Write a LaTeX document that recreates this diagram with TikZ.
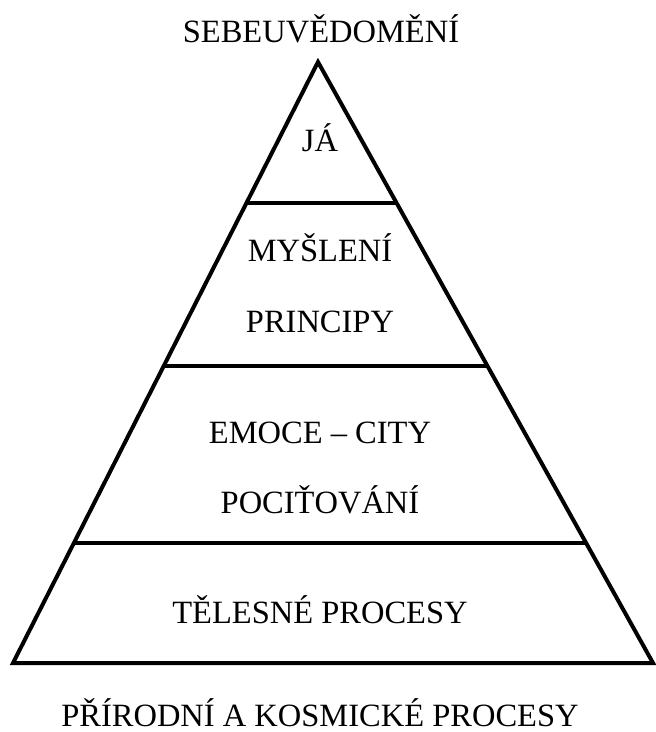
\documentclass[tikz,border=0pt]{standalone}
\usepackage{fontspec}
\setmainfont{Liberation Serif}
\usepackage{tikz}
\usetikzlibrary{calc}
\tikzstyle{caption}=[anchor=base, inner sep=0pt,
font=\fontsize{32.5}{39}\selectfont]
\tikzstyle{edge} = [line width=4pt, line join=miter]

\begin{document}
\begin{tikzpicture}
	[x=1pt, y=-1pt]
	\useasboundingbox (0,0) rectangle (656,732);
	\coordinate (top) at (318,62);
	\coordinate (left) at (13,663);
	\coordinate (right) at (653,663);

	\draw[edge] (top) -- (right) -- (left) -- cycle;
	\draw[edge] ($(top)!0.2346!(left)$) -- ($(top)!0.2346!(right)$);
	\draw[edge] ($(top)!0.5058!(left)$) -- ($(top)!0.5058!(right)$);
	\draw[edge] ($(top)!0.8003!(left)$) -- ($(top)!0.8003!(right)$);

	\node[caption] (1) at (321,42) {SEBEUVĚDOMĚNÍ};
	\node[caption] (2) at (320,151) {JÁ};
	\node[caption] (3) at (320,261) {MYŠLENÍ};
	\node[caption] (4) at (320,332) {PRINCIPY};
	\node[caption] (5) at (320,443) {EMOCE – CITY};
	\node[caption] (6) at (320,513) {POCIŤOVÁNÍ};
	\node[caption] (7) at (320,623) {TĚLESNÉ PROCESY};
	\node[caption, text depth=0pt] (8) at (320,726) {PŘÍRODNÍ A KOSMICKÉ PROCESY};
\end{tikzpicture}
\end{document}
